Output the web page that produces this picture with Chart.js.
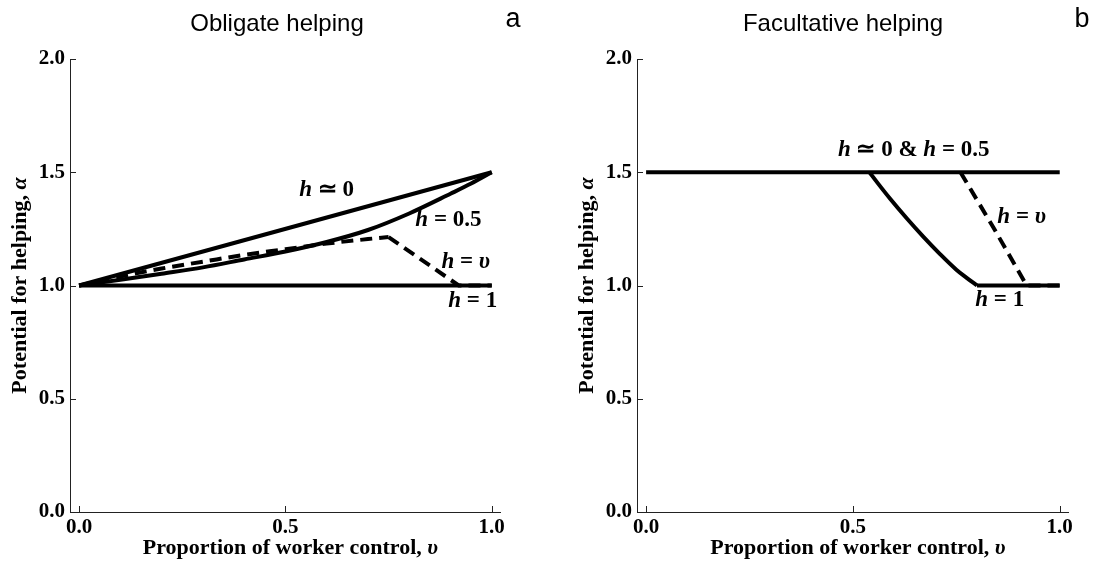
<!DOCTYPE html>
<html>
<head>
<meta charset="utf-8">
<script src="https://cdn.jsdelivr.net/npm/chart.js@4.4.1/dist/chart.umd.min.js"></script>
<style>
  html, body { margin: 0; padding: 0; background: #fff; }
  #wrap { position: relative; width: 1104px; height: 570px; }
  .panel { position: absolute; top: 0; width: 552px; height: 570px; }
</style>
</head>
<body>
<div id="wrap">
  <div class="panel" style="left:0"><canvas id="chartA"></canvas></div>
  <div class="panel" style="left:552px"><canvas id="chartB"></canvas></div>
</div>
<script>
// ---- data ----
const xTicks = [0, 0.5, 1];
const yTicks = [0, 0.5, 1, 1.5, 2];

// panel a: obligate helping
const aH0_v = [0, 1];
const aH0_y = [1, 1.5];
const aHalf_v = [0, 0.1, 0.2, 0.3, 0.4, 0.5, 0.6, 0.7, 0.8, 0.9, 0.95, 1];
const aHalf_y = [1, 1.025, 1.052, 1.08, 1.115, 1.15, 1.192, 1.245, 1.318, 1.405, 1.45, 1.5];
// h = v : rising part, then straight drop to the h = 1 line
const aHvUp_v = [0, 0.1, 0.2, 0.3, 0.4, 0.5, 0.6, 0.7, 0.75];
const aHvUp_y = [1, 1.04, 1.075, 1.105, 1.135, 1.16, 1.185, 1.205, 1.214];
const aHvDown_v = [0.75, 0.92, 1];
const aHvDown_y = [1.214, 1, 1];
const aH1_v = [0, 1];
const aH1_y = [1, 1];

// panel b: facultative helping
const bH0_v = [0, 1];
const bH0_y = [1.5, 1.5];
const bH1curve_v = [0.54, 0.56, 0.59, 0.63, 0.67, 0.71, 0.75, 0.775, 0.8];
const bH1curve_y = [1.5, 1.452, 1.383, 1.297, 1.216, 1.14, 1.07, 1.034, 1];
const bH1tail_v = [0.8, 1];
const bH1tail_y = [1, 1];
const bHv_v = [0.76, 0.84, 0.92, 1];
const bHv_y = [1.5, 1.255, 1, 1];

const SERIF = '"Liberation Serif", "Times New Roman", serif';
const SANS = '"Liberation Sans", Arial, sans-serif';

const pts = (xs, ys) => xs.map((x, i) => ({ x, y: ys[i] }));

function line(data, dashed, smooth) {
  return {
    data, borderColor: "#000", borderWidth: 4, pointRadius: 0,
    borderDash: dashed ? [12, 7] : [], fill: false,
    cubicInterpolationMode: smooth ? "monotone" : "default", tension: 0,
    borderCapStyle: "butt", borderJoinStyle: "miter"
  };
}

// text with mixed italic parts
function drawRich(ctx, parts, x, y, size, align) {
  const font = it => `${it ? "italic " : ""}bold ${size}px ${SERIF}`;
  let w = 0;
  parts.forEach(p => { ctx.font = font(p[1]); w += ctx.measureText(p[0]).width; });
  let cx = align === "center" ? x - w / 2 : x;
  ctx.textBaseline = "middle";
  ctx.textAlign = "left";
  parts.forEach(p => {
    ctx.font = font(p[1]);
    ctx.fillText(p[0], cx, y);
    cx += ctx.measureText(p[0]).width;
  });
}

const decor = {
  id: "decor",
  afterDraw(chart) {
    const o = chart.options.plugins.decor;
    const ctx = chart.ctx, xs = chart.scales.x, ys = chart.scales.y;
    const area = chart.chartArea;
    ctx.save();
    // inward tick marks
    ctx.strokeStyle = "#222";
    ctx.lineWidth = 1;
    ctx.beginPath();
    xTicks.forEach(v => {
      const px = Math.round(xs.getPixelForValue(v)) + 0.5;
      ctx.moveTo(px, area.bottom); ctx.lineTo(px, area.bottom - 6);
    });
    yTicks.forEach(v => {
      const py = Math.round(ys.getPixelForValue(v)) + 0.5;
      ctx.moveTo(area.left, py); ctx.lineTo(area.left + 6, py);
    });
    ctx.stroke();

    ctx.fillStyle = "#000";
    // panel title and letter
    ctx.font = `24px ${SANS}`;
    ctx.textAlign = "center";
    ctx.textBaseline = "middle";
    ctx.fillText(o.title, o.titleX, 24);
    ctx.font = `27px ${SANS}`;
    ctx.fillText(o.letter, o.letterX, 20);

    // axis titles
    drawRich(ctx, [["Proportion of worker control, ", false], ["υ", true]],
      xs.getPixelForValue(0.5) + 5, 548, 22, "center");
    ctx.save();
    ctx.translate(o.yTitleX, (area.top + area.bottom) / 2);
    ctx.rotate(-Math.PI / 2);
    drawRich(ctx, [["Potential for helping, ", false], ["α", true]], 0, 0, 22, "center");
    ctx.restore();

    // curve labels
    o.labels.forEach(l => {
      drawRich(ctx, l.parts, xs.getPixelForValue(l.v), ys.getPixelForValue(l.a), 23, "center");
    });
    ctx.restore();
  }
};

function makeChart(id, datasets, opts) {
  return new Chart(document.getElementById(id), {
    type: "line",
    data: { datasets },
    options: {
      responsive: true, maintainAspectRatio: false, animation: false,
      devicePixelRatio: 1,
      layout: { padding: { top: 59, right: opts.padRight, left: 0, bottom: 0 } },
      plugins: { legend: { display: false }, tooltip: { enabled: false }, decor: opts },
      scales: {
        x: {
          type: "linear", min: -0.022, max: 1.02,
          afterBuildTicks: s => { s.ticks = xTicks.map(v => ({ value: v })); },
          afterFit: s => { s.height = 58; },
          grid: { display: true, drawOnChartArea: false, drawTicks: false },
          border: { display: true, color: "#222", width: 1 },
          ticks: {
            padding: 3, color: "#000", maxRotation: 0,
            font: { family: SERIF, weight: "bold", size: 21 },
            callback: v => v.toFixed(1)
          }
        },
        y: {
          type: "linear", min: 0, max: 2,
          afterBuildTicks: s => { s.ticks = yTicks.map(v => ({ value: v })); },
          afterFit: s => { s.width = opts.axisLeft; },
          grid: { display: true, drawOnChartArea: false, drawTicks: false },
          border: { display: true, color: "#222", width: 1 },
          ticks: {
            padding: 5, color: "#000",
            font: { family: SERIF, weight: "bold", size: 21 },
            callback: v => v.toFixed(1)
          }
        }
      }
    },
    plugins: [decor]
  });
}

makeChart("chartA", [
  line(pts(aH1_v, aH1_y), false),
  line(pts(aH0_v, aH0_y), false),
  line(pts(aHalf_v, aHalf_y), false, true),
  line(pts(aHvUp_v, aHvUp_y), true, true),
  line(pts(aHvDown_v, aHvDown_y), true)
], {
  title: "Obligate helping", titleX: 277, letter: "a", letterX: 513,
  axisLeft: 70, padRight: 52, yTitleX: 20,
  labels: [
    { v: 0.60, a: 1.42, parts: [["h", true], [" ≃ 0", false]] },
    { v: 0.895, a: 1.29, parts: [["h", true], [" = 0.5", false]] },
    { v: 0.937, a: 1.105, parts: [["h", true], [" = ", false], ["υ", true]] },
    { v: 0.954, a: 0.93, parts: [["h", true], [" = 1", false]] }
  ]
});

makeChart("chartB", [
  line(pts(bH0_v, bH0_y), false),
  line(pts(bH1curve_v, bH1curve_y), false, true),
  line(pts(bH1tail_v, bH1tail_y), false),
  line(pts(bHv_v, bHv_y), true)
], {
  title: "Facultative helping", titleX: 291, letter: "b", letterX: 530,
  axisLeft: 85, padRight: 36, yTitleX: 35,
  labels: [
    { v: 0.647, a: 1.60, parts: [["h", true], [" ≃ 0 & ", false], ["h", true], [" = 0.5", false]] },
    { v: 0.908, a: 1.30, parts: [["h", true], [" = ", false], ["υ", true]] },
    { v: 0.855, a: 0.936, parts: [["h", true], [" = 1", false]] }
  ]
});
</script>
</body>
</html>
